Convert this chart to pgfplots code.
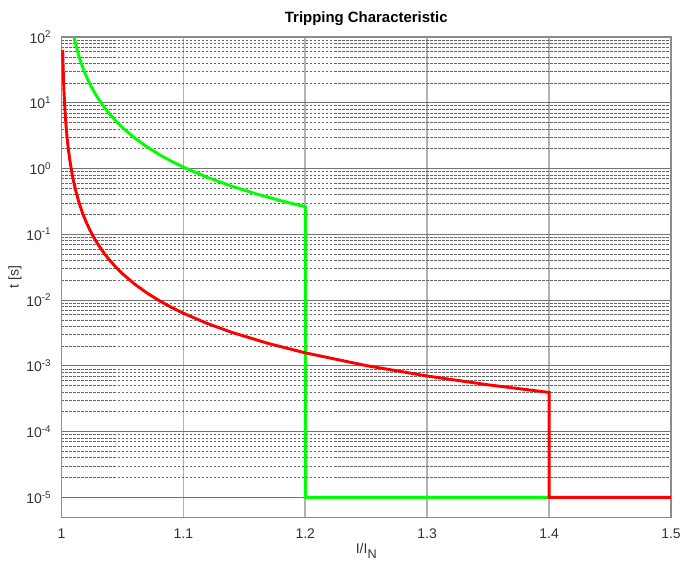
\documentclass[border=0pt]{standalone}
\usepackage{fontspec}
\setmainfont{Liberation Sans}
\usepackage{pgfplots}
\pgfplotsset{compat=1.18}

\begin{document}
\begin{tikzpicture}
\begin{semilogyaxis}[
  name=ax,
  scale only axis,
  width=457pt, height=360pt,
  xmin=1, xmax=1.5,
  ymin=5e-6, ymax=100,
  font=\fontsize{10.5}{12}\selectfont,
  axis line style={draw=black!45, line width=0.9pt},
  major tick length=0pt, minor tick length=0pt,
  xtick={1,1.1,1.2,1.3,1.4,1.5},
  xticklabels={1,1.1,1.2,1.3,1.4,1.5},
  ytick={1e-5,1e-4,1e-3,1e-2,1e-1,1,10,100},
  yticklabels={10\textsuperscript{-5},10\textsuperscript{-4},10\textsuperscript{-3},10\textsuperscript{-2},10\textsuperscript{-1},10\textsuperscript{0},10\textsuperscript{1},10\textsuperscript{2}},
  minor ytick={2e-5,3e-5,4e-5,5e-5,6e-5,7e-5,8e-5,9e-5,
               2e-4,3e-4,4e-4,5e-4,6e-4,7e-4,8e-4,9e-4,
               2e-3,3e-3,4e-3,5e-3,6e-3,7e-3,8e-3,9e-3,
               2e-2,3e-2,4e-2,5e-2,6e-2,7e-2,8e-2,9e-2,
               0.2,0.3,0.4,0.5,0.6,0.7,0.8,0.9,
               2,3,4,5,6,7,8,9,
               20,30,40,50,60,70,80,90},
  xmajorgrids, ymajorgrids, yminorgrids,
  x grid style={draw=black!30, line width=1.3pt},
  y grid style={draw=black!55, line width=0.7pt},
  minor y grid style={draw=black!60, line width=0.45pt, dash pattern=on 2.2pt off 0.8pt},
  xticklabel style={anchor=base, yshift=-15.75pt, text=black!80},
  yticklabel style={anchor=east, inner sep=0pt, xshift=-7.5pt, text=black!80},
  title={\fontsize{11.2}{13}\selectfont\bfseries Tripping Characteristic},
  title style={at={(axis description cs:0.5,1)}, anchor=base, yshift=4.5pt},
  xlabel={I/I\raisebox{-3.75pt}{\fontsize{9.5}{10}\selectfont N}},
  xlabel style={at={(axis description cs:0.5,0)}, anchor=base, yshift=-27pt, text=black!80},
  ylabel={t [s]},
  ylabel style={at={(axis description cs:-0.0763,0.5)}, anchor=center, text=black!80},
  clip=true,
]
% green characteristic
\addplot[color=green, line width=2.2pt, mark=none] coordinates {
  (1.01,105)(1.011,86.78)(1.0125,67.2)(1.014,53.57)(1.016,41.02)
  (1.018,32.41)(1.02,26.25)(1.0225,20.74)(1.025,16.8)(1.0275,13.88)
  (1.03,11.67)(1.035,8.571)(1.04,6.5625)(1.045,5.185)(1.05,4.2)
  (1.06,2.917)(1.07,2.143)(1.08,1.641)(1.09,1.296)(1.10,1.05)
  (1.12,0.7292)(1.14,0.5357)(1.16,0.4102)(1.18,0.3241)(1.20,0.2625)
  (1.20,1e-5)(1.40,1e-5)
};
% red characteristic
\addplot[color=red, line width=2.2pt, mark=none] coordinates {
  (1.001,63)(1.00125,40.32)(1.0015,28)(1.00175,20.57)(1.002,15.75)
  (1.0025,10.08)(1.003,7.0)(1.0035,5.143)(1.004,3.9375)(1.0045,3.111)
  (1.005,2.52)(1.006,1.75)(1.007,1.2857)(1.008,0.984)(1.009,0.7778)
  (1.01,0.63)(1.012,0.4375)(1.014,0.3214)(1.016,0.2461)(1.018,0.1944)
  (1.02,0.1575)(1.023,0.1191)(1.026,0.0932)(1.03,0.07)(1.035,0.05143)
  (1.04,0.03938)(1.045,0.03111)(1.05,0.0252)(1.06,0.0175)(1.07,0.012857)
  (1.08,0.009844)(1.09,0.007778)(1.10,0.0063)(1.12,0.004375)(1.14,0.003214)
  (1.17,0.00218)(1.2,0.001575)(1.25,0.001008)(1.3,0.0007)(1.35,0.000514)
  (1.4,0.000394)(1.4,1e-5)(1.5,1e-5)
};
\end{semilogyaxis}
\pgfresetboundingbox
\path[use as bounding box] ([shift={(-46.1pt,-33.75pt)}]ax.south west) rectangle ([shift={(7.5pt,27.75pt)}]ax.north east);
\end{tikzpicture}
\end{document}
